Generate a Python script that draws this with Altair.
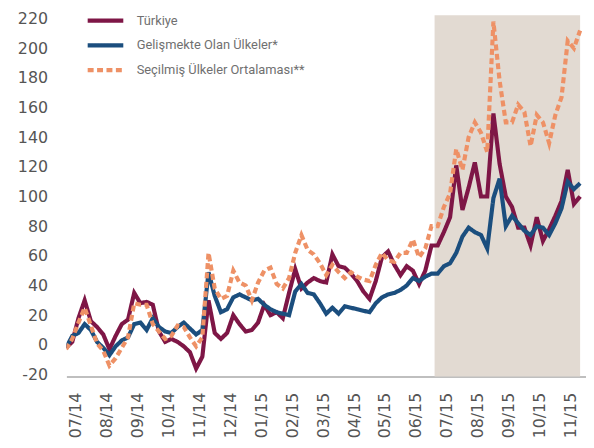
import altair as alt
import pandas as pd

months = ["07/14", "08/14", "09/14", "10/14", "11/14", "12/14", "01/15", "02/15",
          "03/15", "04/15", "05/15", "06/15", "07/15", "08/15", "09/15", "10/15", "11/15"]
series_names = ["Türkiye", "Gelişmekte Olan Ülkeler*", "Seçilmiş Ülkeler Ortalaması**"]
series_colors = ["#7E1646", "#1B4E7E", "#EE9166"]

# sample positions: month offsets from 07/14, one sample every 0.2 month
t_start = -0.3
t_step = 0.2

turkiye = [-2, 2, 18, 30, 16, 12, 7, -3, 6, 14,
           17, 35, 28, 29, 27, 9, 2, 4, 2, -1,
           -5, -16, -8, 30, 8, 4, 8, 20, 14, 9,
           10, 15, 27, 20, 22, 18, 35, 51, 38, 42,
           45, 43, 42, 61, 53, 52, 48, 43, 36, 31,
           43, 59, 63, 54, 47, 53, 50, 41, 50, 67,
           67, 76, 86, 121, 91, 106, 123, 100, 100, 156,
           122, 100, 93, 79, 79, 67, 86, 70, 78, 87,
           97, 118, 95, 100]

gelismekte = [-2, 6, 8, 14, 10, 2, -2, -7, -1, 3,
              5, 14, 15, 10, 18, 12, 9, 8, 12, 15,
              11, 7, 10, 49, 33, 22, 24, 32, 34, 32,
              30, 31, 27, 24, 22, 21, 20, 36, 41, 35,
              34, 28, 21, 25, 21, 26, 25, 24, 23, 22,
              28, 32, 34, 35, 37, 40, 45, 43, 46, 48,
              48, 53, 55, 62, 73, 79, 76, 74, 65, 99,
              112, 80, 87, 82, 77, 74, 80, 79, 74, 82,
              92, 110, 105, 109]

secilmis = [-3, 4, 15, 25, 13, 1, -4, -14, -9, -2,
            5, 28, 27, 27, 14, 9, 4, 6, 13, 12,
            5, -1, 5, 62, 38, 31, 33, 50, 42, 40,
            30, 42, 50, 52, 41, 38, 45, 62, 74, 64,
            61, 55, 47, 54, 49, 45, 49, 46, 44, 43,
            54, 62, 57, 56, 62, 62, 71, 59, 65, 80,
            80, 93, 102, 132, 118, 140, 150, 143, 130, 218,
            178, 150, 150, 162, 157, 134, 155, 150, 136, 155,
            167, 205, 200, 212]

shade_start, shade_end = 11.6, 16.3
y_min, y_max = -21.3, 222.3
x_min, x_max = -0.29, 16.49

rows = []
for name, vals in zip(series_names, [turkiye, gelismekte, secilmis]):
    for i, v in enumerate(vals):
        rows.append({"t": t_start + t_step * i, "value": v, "series": name})
df = pd.DataFrame(rows)

label_expr = "[" + ",".join("'" + m + "'" for m in months) + "][datum.value]"

x_scale = alt.Scale(domain=[x_min, x_max], nice=False, zero=False)
y_scale = alt.Scale(domain=[y_min, y_max], nice=False, zero=False)

x_axis = alt.Axis(values=list(range(len(months))), labelExpr=label_expr, title=None,
                  grid=False, ticks=False, domain=True, domainColor="#aaaaaa",
                  domainWidth=1.5, labelAngle=270, labelPadding=16,
                  labelOverlap=False, labelFont="DejaVu Sans", labelFontSize=16,
                  labelColor="#555555")
y_axis = alt.Axis(values=list(range(-20, 221, 20)), labelExpr="'' + datum.value",
                  title=None, grid=False, labelOverlap=False,
                  ticks=False, domain=False, labelPadding=19,
                  labelFont="DejaVu Sans", labelFontSize=16, labelColor="#555555")

shade = alt.Chart(pd.DataFrame({"start": [shade_start], "end": [shade_end],
                                "lo": [y_min], "hi": [y_max]})).mark_rect(
    color="#E2DAD2").encode(
    x=alt.X("start:Q", scale=x_scale, axis=x_axis),
    x2="end:Q",
    y=alt.Y("lo:Q", scale=y_scale, axis=y_axis),
    y2="hi:Q",
)

legend = alt.Legend(title=None, orient="none", legendX=26, legendY=-8, padding=0,
                    rowPadding=3, labelFont="Roboto", labelFontSize=13, labelColor="#707070",
                    labelLimit=400, symbolType="M-1.6,0H1.6", symbolSize=506, labelOffset=18)

lines = alt.Chart(df).mark_line(clip=True).encode(
    x=alt.X("t:Q", scale=x_scale, axis=x_axis),
    y=alt.Y("value:Q", scale=y_scale, axis=y_axis),
    color=alt.Color("series:N", scale=alt.Scale(domain=series_names, range=series_colors),
                    legend=legend),
    strokeDash=alt.StrokeDash("series:N", scale=alt.Scale(domain=series_names,
                                                          range=[[1, 0], [1, 0], [6, 3.5]]),
                              legend=legend),
    strokeWidth=alt.StrokeWidth("series:N", scale=alt.Scale(domain=series_names,
                                                            range=[4.2, 4.2, 3]),
                                legend=legend),
)

chart = alt.layer(shade, lines).properties(
    width=525, height=365,
    autosize=alt.AutoSizeParams(type="none"),
    padding={"left": 59, "top": 5, "right": 0, "bottom": 62},
).configure_view(stroke=None)

chart.save("out.html", embed_options={"renderer": "svg", "actions": False})
